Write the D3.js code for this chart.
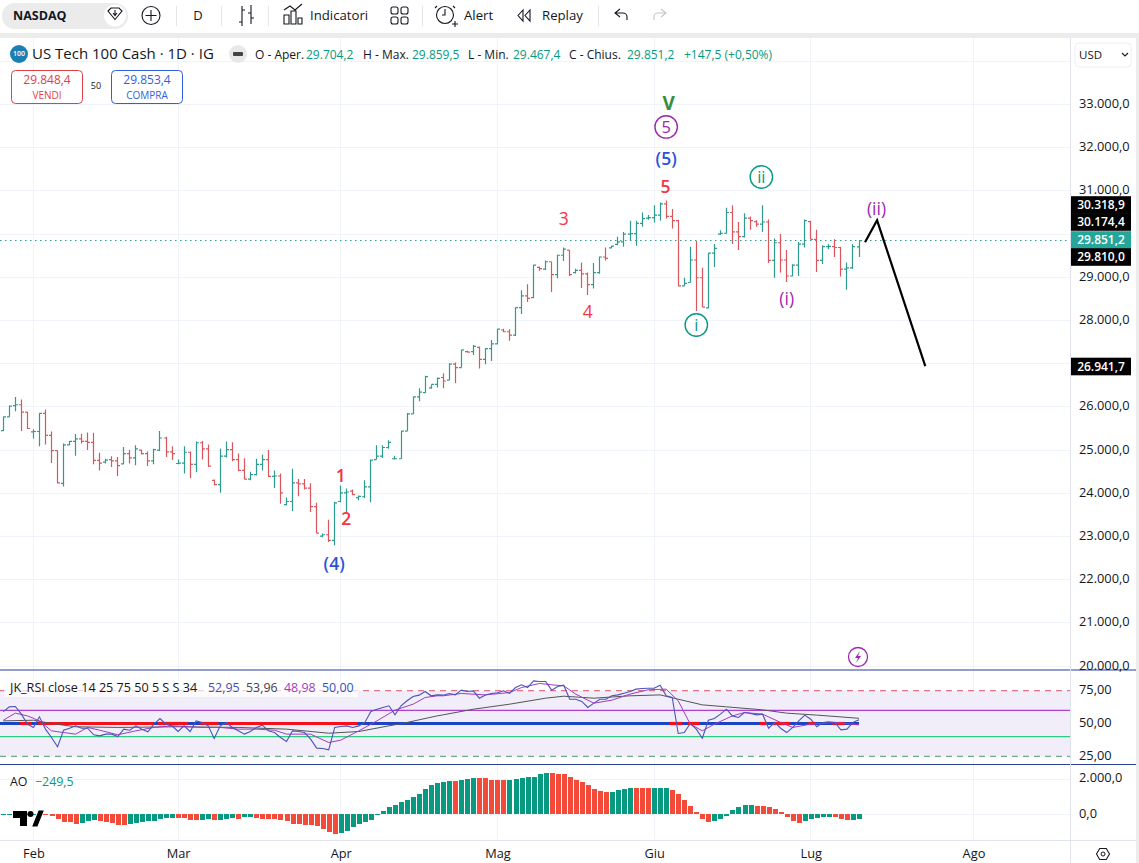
<!DOCTYPE html>
<html><head><meta charset="utf-8">
<style>html,body{margin:0;padding:0;background:#fff;overflow:hidden}svg{display:block}
text{font-family:"Open Sans","Noto Sans",sans-serif}</style>
<script src="https://cdn.jsdelivr.net/npm/d3@7"></script></head><body>
<svg id="c" width="1139" height="863"></svg>
<script>
const openP=[25450,25770,26030,26050,25880,25420,25430,25850,25340,24990,
24230,25120,25200,25260,25200,25180,24760,24720,24780,24750,
24680,24920,24820,25000,24920,24750,25000,25280,24960,24690,
24700,24950,24670,25170,25030,24300,24200,24860,25010,24780,
24530,24330,24430,24670,24780,24390,24400,23740,23810,24240,
24220,24120,23690,23010,23040,22910,23810,24010,24050,23900,
23920,24150,24780,24860,25060,24800,24800,25440,25840,26230,
26330,26440,26520,26680,26620,26990,26910,27280,27280,27380,
27100,27350,27460,27780,27740,27660,28300,28570,28530,29230,
29190,29360,29060,29510,29630,29110,29160,29080,28830,29110,
29470,29680,29760,29820,30000,30010,30250,30370,30380,30440,
30700,30410,30310,28800,28880,29400,28990,28290,29560,30000,
30020,30500,30050,29940,30370,30290,30230,30280,29390,29800,
29400,29030,29280,29770,30290,29880,29390,29710,29710,29690,
29190,29220,29704];
const highP=[25780,26030,26230,26170,25880,25480,25860,25940,25430,24990,
25150,25210,25370,25380,25410,25400,24940,24800,24860,24840,
25070,25000,25110,25010,24970,25030,25440,25310,25090,24780,
25090,24970,25200,25210,25130,24320,25030,25200,25180,24920,
24810,24500,24800,24890,25000,24530,24460,23900,24570,24330,
24330,24230,23780,23070,23390,23800,24180,24110,24090,23950,
24300,24780,25110,25110,25230,24870,25450,25860,26240,26430,
26720,26520,26680,26780,27010,27030,27320,27300,27430,27400,
27360,27550,27810,27810,27800,28300,28700,28840,29290,29250,
29390,29360,29520,29690,29630,29200,29340,29110,29330,29480,
29690,29730,29940,30050,30310,30310,30500,30440,30670,30730,
30780,30580,30330,28990,29710,29840,29220,29570,29770,30090,
30610,30670,30280,30480,30410,30320,30670,30340,29900,30000,
29630,29300,29820,30340,30310,30100,29740,29770,29880,29710,
29340,29770,29859.5];
const lowP=[25440,25770,25900,25440,25490,25270,25090,25130,24700,24230,
24160,25110,24870,25150,25000,24670,24530,24690,24610,24400,
24670,24690,24650,24900,24630,24670,24980,24840,24770,24670,
24460,24350,24490,24780,24610,24180,24010,24830,24740,24510,
24320,24300,24410,24530,24380,24120,23760,23720,23590,23930,
24090,23570,23080,22980,22870,22800,23790,23550,23960,23840,
23890,23790,24780,24820,25030,24780,24800,25440,25840,26130,
26330,26420,26450,26430,26620,26550,26910,27260,27200,26890,
26990,27060,27450,27730,27530,27640,28150,28430,28520,29150,
29170,28660,28980,29380,29030,29090,28750,28590,28740,29080,
29390,29670,29740,29710,29840,29730,30170,30330,30270,30310,
30360,30130,28790,28800,28880,28220,28310,28280,29240,29980,
30010,29770,29630,29920,30100,30170,30050,29330,28990,29110,
28890,29020,29030,29690,29880,29120,29310,29650,29470,29020,
28710,29190,29467.4];
const closeP=[25770,26020,26050,25880,25500,25430,25850,25340,24990,24240,
25120,25200,25260,25200,25180,24760,24700,24770,24750,24640,
24920,24820,25030,24920,24750,25010,25280,24960,24920,24700,
24950,24670,25170,25030,24630,24200,24860,25010,24780,24530,
24330,24430,24670,24780,24390,24400,24010,23810,24240,24220,
24120,23690,23080,23040,22910,23780,24010,24030,23970,23930,
24150,24770,24860,25060,25180,24800,25440,25840,26230,26340,
26700,26520,26660,26600,26990,26910,27320,27270,27400,27100,
27350,27460,27800,27740,27660,28300,28570,28510,29280,29200,
29360,29060,29510,29650,29060,29160,29080,28830,29110,29470,
29440,29720,29820,30000,30010,30250,30360,30380,30440,30700,
30410,30310,28800,28860,29400,28990,28310,29560,29670,30020,
30500,30050,29940,30370,30310,30230,30280,29390,29800,29400,
29030,29280,29770,30310,29880,29390,29710,29715,29690,29190,
29220,29710,29851.2];
const rsiValues=[59.1,62.7,63.0,57.1,49.5,47.0,55.1,45.7,39.3,32.2,
44.9,46.4,48.2,46.4,46.4,41.4,40.6,41.9,41.9,40.1,
45.7,44.9,48.2,45.7,43.7,49.5,53.8,49.5,48.2,43.9,
48.2,43.9,52.0,50.8,48.2,38.6,48.2,50.8,47.0,44.4,
41.9,43.9,47.0,48.7,44.4,43.1,39.3,36.3,44.4,43.9,
43.1,38.1,31.2,31.0,29.9,47.0,47.7,48.2,47.0,48.2,
50.8,59.1,60.9,62.2,63.5,56.6,63.5,67.3,70.6,71.6,
74.4,71.1,71.8,71.6,
72.9,71.8,75.4,74.4,74.9,69.3,71.8,72.9,73.4,74.9,
72.9,77.4,79.5,77.4,82.5,82.0,82.0,75.4,78.2,79.2,
68.5,68.5,66.8,62.2,65.5,68.5,68.5,71.1,71.8,73.1,
74.4,76.2,76.7,76.9,76.9,79.2,71.1,69.8,42.4,43.1,
50.0,45.7,38.8,52.5,53.8,57.1,60.9,55.8,54.6,58.4,
57.6,56.6,57.1,46.4,50.8,46.4,43.1,47.0,52.0,56.4,
53.3,47.5,50.8,51.3,50.8,45.2,45.7,50.8,52.95];
const rsiMaIdx=[0,2,4,6,8,10,12,14,16,19,22,25,28,33,36,39,42,45,47,51,54,56,59,62,65,68,70,72,73,76,80,84,86,89,91,93,95,98,101,104,107,110,112,114,116,118,121,123,126,129,131,134,138,142];
const rsiMaVal=[52.5,57.9,55.8,52,44.4,43.1,41.9,47,44.9,41.4,44.4,47,48.2,47,47,45.7,45.7,44.9,41.9,41.9,35.5,37.3,44.4,52,60.2,64.7,69.8,71.1,71.1,72.9,71.8,73.6,77.4,80.5,79.5,78.7,72.4,65.5,67.8,72.4,75.7,76.2,67.3,49.5,44.4,49.5,55.8,58.4,57.1,50.8,47,49.5,50.8,48.98];
const rsiSlowIdx=[0,5,8,12,19,29,39,47,54,59,67,72,73,78,84,90,93,98,104,109,112,116,120,126,130,135,142];
const rsiSlowVal=[52,52.5,50,47.5,47,47.5,47,45.7,42.6,43.9,50.8,55.8,56.6,60.9,64.7,69.3,70.8,69.3,71.1,71.8,68.5,64.2,62.7,60.4,57.9,56.4,53.96];
const midRedSpans=[[2.8,4.7],[5.8,24.9],[25.7,30.7],[32.7,35.7],[36.8,58.8],[110.6,112.7],[113.6,115.6],[125.5,126.7],[127.7,130.6],[133.6,134.7],[137.6,139.6]];
const aoValues=[-40,-30,-20,-10,-5,-5,-20,-60,-95,-265,
-420,-440,-535,-475,-400,-340,-380,-420,-515,-590,
-595,-530,-495,-455,-400,-360,-265,-190,-185,-210,
-230,-305,-310,-300,-265,-325,-300,-265,-210,-265,
-135,-130,-210,-250,-265,-270,-325,-400,-535,-570,
-590,-630,-650,-840,-990,-1105,-1050,-950,-725,-550,
-420,-325,-55,190,420,550,725,840,1010,1180,
1430,1680,1810,1860,1900,1890,1960,2020,2075,2070,
2065,1960,1950,1945,1960,2020,2060,2115,2135,2285,
2360,2355,2325,2305,2135,1960,1850,1675,1450,1335,
1270,1280,1390,1450,1505,1500,1495,1490,1500,1505,
1510,1390,1160,820,475,135,-265,-420,-360,-265,
-95,250,440,535,540,475,470,420,305,135,
-135,-380,-475,-360,-250,-210,-170,-135,-140,-250,
-325,-305,-249.5];
const monthIdx=[5,29,56,82,108,134,161];
const monthLabels=["Feb","Mar","Apr","Mag","Giu","Lug","Ago"];
const priceTicks=[33000,32000,31000,30000,29000,28000,27000,26000,25000,24000,23000,22000,21000,20000];
const priceLabelTicks=[33000,32000,31000,29000,28000,26000,25000,24000,23000,22000,21000,20000];
const waveIdx=[143,145,153];
const wavePrice=[29810,30318.9,26941.7];
const noteIdx=[110.4,110,110,109.9,93,97,115,125.8,144.9,130,56,56.9,54.9];
const notePrice=[33040,32480,31738,31100,30350,28197,27896,31322,30581,28498,24400,23405,22360];
const noteText=["V","5","(5)","5","3","4","i","ii","(ii)","(i)","1","2","(4)"];
const noteColor=["#388e3c","#9c27b0","#2a52d8","#f23645","#f23645","#f23645","#089981","#089981","#9c27b0","#9c27b0","#f23645","#f23645","#2a52d8"];
const noteRing=[0,1,0,0,0,0,1,1,0,0,0,0,0];
const noteWeight=[700,500,600,600,500,500,500,500,500,500,600,600,600];
const tagPrices=[30318.9,30174.4,29851.2,29810.0,26941.7];
const tagY=[205,222,240,257,366.5];

const it=d3.formatLocale({decimal:",",thousands:".",grouping:[3],currency:["","$"],minus:"\u2212"});
const f1=it.format(",.1f"), f2=it.format(".2f");
const svg=d3.select("#c");
const x=d3.scaleLinear().domain([0,142]).range([3.3,859]);
const y=d3.scaleLinear().domain([33000,20000]).range([104.5,666.1]);
const yR=d3.scaleLinear().domain([75,25]).range([690.7,756.3]);
const yA=d3.scaleLinear().domain([0,2000]).range([814.3,779.3]);
const R=1070, TEAL="#2f9a8e", RED="#d9575c", GRID="#f0f3fa";

// background chrome
svg.append("rect").attr("y",33).attr("width",1139).attr("height",5).attr("fill","#ececec");
svg.append("rect").attr("x",1136).attr("y",33).attr("width",3).attr("height",830).attr("fill","#ececec");

// gridlines
const gridG=svg.append("g").attr("stroke",GRID).attr("stroke-width",1).attr("shape-rendering","crispEdges");
gridG.selectAll("line.v").data(monthIdx).join("line").attr("x1",d=>x(d)).attr("x2",d=>x(d)).attr("y1",38).attr("y2",840);
gridG.selectAll("line.h").data(priceTicks.concat([34000])).join("line").attr("class","h").attr("x1",0).attr("x2",R).attr("y1",d=>y(d)).attr("y2",d=>y(d));
gridG.selectAll("line.a").data([0,2000]).join("line").attr("class","a").attr("x1",0).attr("x2",R).attr("y1",d=>yA(d)).attr("y2",d=>yA(d));

// current price line
svg.append("line").attr("x1",0).attr("x2",R).attr("y1",y(29851.2)).attr("y2",y(29851.2)).attr("stroke","#2f9a8e").attr("stroke-dasharray","1.5 3.5").attr("stroke-width",1);

// OHLC bars
const n=closeP.length;
const bars=svg.append("g").attr("fill","none").attr("stroke-width",1.2);
bars.selectAll("path").data(d3.range(n)).join("path")
 .attr("stroke",i=>closeP[i]>=openP[i]?TEAL:RED)
 .attr("d",i=>{const X=Math.floor(x(i))+.5;return `M${X},${y(highP[i])}V${y(lowP[i])}M${X-2.5},${y(openP[i])}H${X}M${X},${y(closeP[i])}H${X+2.5}`;});

// wave path
const waveLine=d3.line().x((d,i)=>x(waveIdx[i])).y(d=>y(d));
svg.append("path").attr("d",waveLine(wavePrice)).attr("fill","none").attr("stroke","#000").attr("stroke-width",2.2);

// annotations
const notes=svg.append("g").selectAll("g").data(noteText.map((t,i)=>i)).join("g")
 .attr("transform",i=>`translate(${x(noteIdx[i])},${y(notePrice[i])})`);
notes.filter(i=>noteRing[i]).append("circle").attr("r",11.2).attr("fill","#fff").attr("stroke",i=>noteColor[i]).attr("stroke-width",1.4);
notes.append("text").attr("text-anchor","middle").attr("dy","0.36em").attr("fill",i=>noteColor[i])
 .attr("font-size",i=>noteText[i]=="V"?19:noteRing[i]?16.5:17.5).attr("font-weight",i=>noteWeight[i])
 .text(i=>noteText[i]);

// RSI pane
svg.append("rect").attr("x",0).attr("width",R).attr("y",yR(75)).attr("height",yR(25)-yR(75)).attr("fill","#f1edf9");
[[75,"#e0556a","6 5",1],[25,"#4a9a6a","6 5",1],[60,"#b040d0",null,1.2],[40,"#2ecc80",null,1.2]].forEach(([v,c,da,w])=>{
 svg.append("line").attr("x1",0).attr("x2",R).attr("y1",yR(v)).attr("y2",yR(v)).attr("stroke",c).attr("stroke-width",w).attr("stroke-dasharray",da);
});
svg.append("line").attr("x1",0).attr("x2",x(142)).attr("y1",yR(50)).attr("y2",yR(50)).attr("stroke","#1c43c4").attr("stroke-width",3.2);
svg.append("g").selectAll("line").data(midRedSpans).join("line").attr("x1",d=>x(d[0])).attr("x2",d=>x(d[1])).attr("y1",yR(50)).attr("y2",yR(50)).attr("stroke","#f5101a").attr("stroke-width",3.2);
const ln=d3.line().x(d=>x(d[0])).y(d=>yR(d[1]));
svg.append("path").attr("d",ln(rsiSlowIdx.map((d,i)=>[d,rsiSlowVal[i]]))).attr("fill","none").attr("stroke","#555").attr("stroke-width",1);
svg.append("path").attr("d",ln(rsiMaIdx.map((d,i)=>[d,rsiMaVal[i]]))).attr("fill","none").attr("stroke","#a23cc0").attr("stroke-width",1);
svg.append("path").attr("d",ln(rsiValues.map((d,i)=>[i,d]))).attr("fill","none").attr("stroke","#4a55b8").attr("stroke-width",1.1);

// AO bars
svg.append("g").attr("shape-rendering","crispEdges").selectAll("rect").data(aoValues).join("rect")
 .attr("x",(d,i)=>Math.round(x(i))-2.5).attr("width",5)
 .attr("y",d=>Math.min(yA(d),yA(0))).attr("height",d=>Math.max(1,Math.abs(yA(d)-yA(0))))
 .attr("fill",(d,i)=>(i==0||d>=aoValues[i-1])?"#089981":"#f44a3a");

// pane borders
[[670,"#2b3f9e"],[764.5,"#2b3f9e"]].forEach(([yy,c])=>svg.append("line").attr("x1",0).attr("x2",1136).attr("y1",yy).attr("y2",yy).attr("stroke",c).attr("stroke-width",1.2));
svg.append("rect").attr("x",R).attr("y",38).attr("width",1).attr("height",825).attr("fill","#e0e3eb");
svg.append("rect").attr("x",0).attr("y",840).attr("width",1136).attr("height",1).attr("fill","#e0e3eb");

// axes
const AF=12.8;
const axStyle=(g,fs)=>{g.select(".domain").remove();g.selectAll(".tick line").remove();g.selectAll("text").attr("fill","#131722").attr("font-size",fs).style("font-family",'"Open Sans",sans-serif');};
svg.append("g").attr("transform",`translate(1079,-1.2)`).call(d3.axisRight(y).tickValues(priceLabelTicks).tickFormat(f1).tickSize(0).tickPadding(0)).call(axStyle,AF);
svg.append("g").attr("transform",`translate(1079,-1.2)`).call(d3.axisRight(yR).tickValues([75,50,25]).tickFormat(f2).tickSize(0).tickPadding(0)).call(axStyle,AF);
svg.append("g").attr("transform",`translate(1079,-2)`).call(d3.axisRight(yA).tickValues([2000]).tickFormat(f1).tickSize(0).tickPadding(0)).call(axStyle,AF);
svg.append("g").attr("transform",`translate(1079,-1.3)`).call(d3.axisRight(yA).tickValues([0]).tickFormat(f1).tickSize(0).tickPadding(0)).call(axStyle,AF);
svg.append("g").attr("transform",`translate(0,841)`).call(d3.axisBottom(x).tickValues(monthIdx).tickFormat((d,i)=>monthLabels[i]).tickSize(0).tickPadding(8)).call(axStyle,AF);

// price tags
const tags=svg.append("g").selectAll("g").data(tagPrices).join("g").attr("transform",(d,i)=>`translate(1071,${tagY[i]})`);
tags.append("rect").attr("y",-8.8).attr("width",60).attr("height",17.6).attr("fill",(d,i)=>i==2?"#26a69a":"#000");
tags.append("text").attr("x",30).attr("dy","0.35em").attr("text-anchor","middle").attr("font-size",12).attr("font-weight",600).attr("fill","#fff").text(d=>f1(d));

// text helper
const T=(s,xx,yy,fs,c,o={})=>svg.append("text").attr("x",xx).attr("y",yy).attr("dy","0.35em").attr("font-size",fs).attr("fill",c).attr("font-weight",o.w||400).attr("text-anchor",o.a||"start").text(s);
const P=(d,o={})=>svg.append("path").attr("d",d).attr("fill",o.f||"none").attr("stroke",o.s||"#131722").attr("stroke-width",o.w||1.1);

// toolbar
svg.append("rect").attr("x",2).attr("y",3).attr("width",126).attr("height",26).attr("rx",13).attr("fill","#ebebeb");
T("NASDAQ",13,15.5,12.5,"#131722",{w:700});
svg.append("circle").attr("cx",115).attr("cy",15.5).attr("r",11).attr("fill","#fff");
P("M108,11l3,-3h8l3,3l-7,8.5z");P("M115,10v5M113,13l2,2.5l2,-2.5");
svg.append("circle").attr("cx",151).attr("cy",15.5).attr("r",9).attr("fill","none").attr("stroke","#131722").attr("stroke-width",1.1);
P("M151,10v11M145.5,15.5h11");
[176,221,268,422,598].forEach(v=>svg.append("rect").attr("x",v).attr("y",6).attr("width",1).attr("height",20).attr("fill","#e6e6e6"));
T("D",198,15.5,13,"#131722",{a:"middle"});
P("M242,6v20M239,22h3M242,10h3M251,5v19M248,13h3M251,18h3");
P("M284,24v-9h5v9zM291,24v-13h5v13zM298,24v-6h4v6zM284,10l6,-4l5,4l7,-6");
T("Indicatori",310,15.5,13.2,"#131722");
[[391,7],[401,7],[391,17],[401,17]].forEach(([a,b])=>svg.append("rect").attr("x",a).attr("y",b).attr("width",7).attr("height",7).attr("rx",2).attr("fill","none").attr("stroke","#131722").attr("stroke-width",1.1));
svg.append("circle").attr("cx",445).attr("cy",15).attr("r",8.5).attr("fill","none").attr("stroke","#131722").attr("stroke-width",1.1);
P("M445,9v6h-3M437,6l-2,2M453,6l2,2M452,24h6M455,21v6");
T("Alert",464,15.5,13.2,"#131722");
P("M523,10l-5,5.5l5,5.5zM530,10l-5,5.5l5,5.5z");
T("Replay",542,15.5,13.2,"#131722");
P("M620,9l-5,4l5,4M615,13h8a4,4 0 0 1 4,4v3");
P("M661,9l5,4l-5,4M666,13h-8a4,4 0 0 0 -4,4v3",{s:"#c4c7cf"});

// legend row
svg.append("circle").attr("cx",19).attr("cy",54).attr("r",9).attr("fill","#1b7fb5");
T("100",19,54,7,"#fff",{a:"middle",w:600});
T("US Tech 100 Cash \u00b7 1D \u00b7 IG",32,54,15,"#131722");
svg.append("circle").attr("cx",238).attr("cy",54).attr("r",9).attr("fill","#e8e8e8");
svg.append("rect").attr("x",233).attr("y",52).attr("width",10).attr("height",4).attr("rx",1).attr("fill","#444");
const LT="#089981";
[["O - Aper.",255,"#131722"],["29.704,2",306,LT],["H - Max.",363,"#131722"],["29.859,5",412,LT],["L - Min.",468,"#131722"],["29.467,4",513,LT],["C - Chius.",569,"#131722"],["29.851,2",627,LT],["+147,5 (+0,50%)",684,LT]].forEach(([s,a,c])=>T(s,a,54.5,12,c));

// buy / sell
svg.append("rect").attr("x",11.5).attr("y",70.5).attr("width",71).attr("height",33).attr("rx",4).attr("fill","#fff").attr("stroke","#e0404a");
T("29.848,4",47,79.5,12,"#e0404a",{a:"middle",w:500});
T("VENDI",47,95,10,"#e0404a",{a:"middle"});
T("50",96,86,9,"#131722",{a:"middle"});
svg.append("rect").attr("x",111.5).attr("y",70.5).attr("width",71).attr("height",33).attr("rx",4).attr("fill","#fff").attr("stroke","#2f5fe0");
T("29.853,4",147,79.5,12,"#2f5fe0",{a:"middle",w:500});
T("COMPRA",147,95,10,"#2f5fe0",{a:"middle"});

// currency
svg.append("rect").attr("x",1075).attr("y",43).attr("width",56).attr("height",24).attr("rx",4).attr("fill","#fff").attr("stroke","#eceef2");
T("USD",1079,54.5,11.5,"#131722");
P("M1122,53l3,3l3,-3");

// RSI / AO legend
svg.append("rect").attr("x",4).attr("y",679).attr("width",354).attr("height",18).attr("fill","#fff").attr("opacity",.7);
T("JK_RSI close 14 25 75 50 5 S S 34",10,687.5,12.6,"#131722");
[["52,95",208,"#3f4fb0"],["53,96",246,"#444"],["48,98",284,"#a23cc0"],["50,00",322,"#2a52c8"]].forEach(([s,a,c])=>T(s,a,687.5,12.4,c));
T("AO",10,781.5,12.4,"#131722");
T(f1(aoValues[n-1]),35,781.5,12.4,"#089981");

// TradingView mark
P("M13,811h14v15h-7v-8h-7z",{f:"#000",s:"none"});
svg.append("circle").attr("cx",30.5).attr("cy",814).attr("r",3).attr("fill","#000");
P("M33,826l6,-15h4l-6,15z",{f:"#000",s:"#000"});

// lightning
svg.append("circle").attr("cx",858).attr("cy",657).attr("r",9.5).attr("fill","#fff").attr("stroke","#9c27b0").attr("stroke-width",1.3);
P("M860,651l-5,7h3l-2,5l5,-7h-3z",{f:"#9c27b0",s:"none"});

// settings
svg.append("circle").attr("cx",1103).attr("cy",854).attr("r",2).attr("fill","none").attr("stroke","#131722");
P("M1096.5,854l3.2,-5.5h6.6l3.2,5.5l-3.2,5.5h-6.6z");
</script></body></html>
